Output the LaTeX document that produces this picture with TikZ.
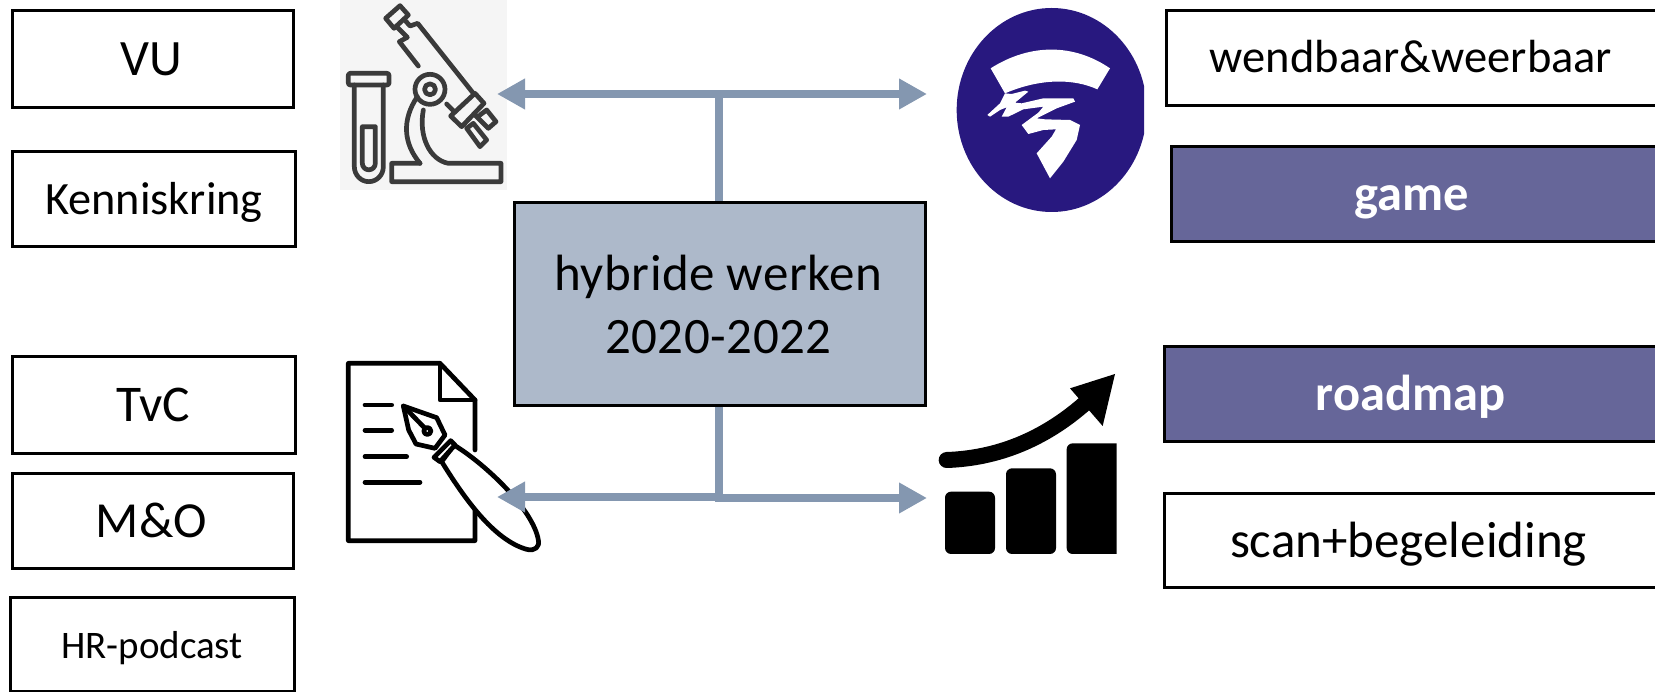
\documentclass[tikz,border=0pt]{standalone}
\usepackage{fontspec}
\setmainfont{Carlito}
\usetikzlibrary{arrows.meta}
\definecolor{linkblue}{HTML}{8497B0}
\definecolor{hubfill}{HTML}{ADB9CA}
\definecolor{purplefill}{HTML}{666699}
\definecolor{logoblue}{HTML}{28187F}
\definecolor{scopegrey}{HTML}{3A3A3A}
\tikzset{
  tagbox/.style={draw=black,line width=3pt,fill=white,inner sep=0pt,text height=33pt,text depth=0pt,font=\fontsize{51}{60}\selectfont},
  accentbox/.style={tagbox,fill=purplefill,text=white,text height=34pt,font=\fontsize{50.5}{60}\selectfont\bfseries},
  hubbox/.style={draw=black,line width=3pt,fill=hubfill,inner sep=0pt,align=center,font=\fontsize{51}{63}\selectfont\addfontfeature{LetterSpace=1}},
  conn/.style={draw=linkblue,line width=8pt},
  connhead/.style={conn,{Triangle[length=28pt,width=29pt]}-},
  scopeline/.style={draw=scopegrey,line width=4.7pt,line join=round,line cap=round},
  penline/.style={draw=black,line width=4.7pt,line join=round,line cap=round},
}
\begin{document}
\begin{tikzpicture}[x=1pt,y=-1pt]
\useasboundingbox (0,0) rectangle (1655,692);
% left boxes
\node[tagbox,minimum width=280.5pt,minimum height=97pt] (vu) at (152.75,59) {\fontsize{51}{60}\selectfont VU\hspace*{3pt}};
\node[tagbox,minimum width=283pt,minimum height=95pt,text height=31pt] (kk) at (154,199.5) {\fontsize{46.3}{56}\selectfont Kenniskring};
\node[tagbox,minimum width=283pt,minimum height=97pt] (tvc) at (154,405) {\fontsize{51.5}{60}\selectfont TvC\hspace*{2pt}};
\node[tagbox,minimum width=281pt,minimum height=95pt] (mo) at (153,521) {\fontsize{50.5}{60}\selectfont M\&O\hspace*{3pt}};
\node[tagbox,minimum width=284pt,minimum height=94pt,text height=28pt] (hr) at (152,644) {\fontsize{39}{48}\selectfont HR-podcast};
% right boxes (run off the page)
\node[tagbox,minimum width=498pt,minimum height=95pt,text height=30pt] (wb) at (1415,58) {\fontsize{46.5}{56}\selectfont wendbaar\&weerbaar\hspace*{8pt}};
\node[accentbox,minimum width=490pt,minimum height=95pt] (game) at (1416,194) {game\hspace*{9pt}};
\node[accentbox,minimum width=498pt,minimum height=95pt] (road) at (1413,394) {roadmap\hspace*{5pt}};
\node[tagbox,minimum width=498pt,minimum height=94pt] (scan) at (1413,540.5) {scan+begeleiding\hspace*{9pt}};

% microscope icon
\fill[color=black!4] (340,0) rectangle (507,190);
\begin{scope}[shift={(320,0)},x=0.33333pt,y=-0.33333pt]
  \draw[scopeline,rounded corners=2pt] (85,220) rectangle (207,255);
  \draw[scopeline] (103,255) -- (103,500) arc[start angle=180,end angle=360,x radius=14.5pt,y radius=15pt] -- (190,255);
  \draw[scopeline] (127,380) -- (127,490) arc[start angle=180,end angle=360,x radius=6.5pt,y radius=6.5pt] -- (166,380) -- cycle;
  \draw[scopeline] (300,490) -- (215,490) -- (215,545) -- (543,545) -- (543,490) -- (385,490)
     .. controls (330,480) and (295,410) .. (310,330);
  \draw[scopeline] (300,490) .. controls (250,430) and (245,360) .. (292,290);
  \draw[scopeline] (330,268) circle[radius=15pt];
  \draw[scopeline] (330,268) circle[radius=5.5pt];
  % body
  \draw[scopeline] (197,55) -- (240,17) -- (265,45) -- (222,85) -- cycle;
  \draw[scopeline] (232,82) -- (262,112) -- (238,125) -- (295,198);
  \draw[scopeline] (256,62) -- (270,78) -- (293,70) -- (460,280);
  \draw[scopeline] (392,348) -- (465,280) -- (492,310) -- (425,380) -- cycle;
  \draw[scopeline] (380,312) -- (400,332);
  \draw[scopeline] (440,385) -- (460,370) -- (500,420) -- (480,440) -- cycle;
  \draw[scopeline] (480,345) -- (500,330) -- (528,365) -- (505,385) -- (465,345);
\end{scope}

% document and pen icon
\begin{scope}[shift={(330,350)},x=0.33333pt,y=-0.33333pt]
  \draw[penline] (435,480) -- (435,572) -- (55,572) -- (55,40) -- (330,40) -- (435,150) -- (435,300);
  \draw[penline] (330,40) -- (330,150) -- (435,150);
  \draw[penline] (105,165) -- (185,165);
  \draw[penline] (105,241) -- (185,241);
  \draw[penline] (105,320) -- (230,320);
  \draw[penline] (105,397) -- (270,397);
  \draw[penline,fill=white] (335,335) .. controls (400,440) and (490,570) .. (590,598)
     .. controls (615,605) and (630,590) .. (625,570)
     .. controls (610,480) and (470,345) .. (372,285) -- cycle;
  \draw[penline,fill=white] (312,322) -- (362,272) -- (375,285) -- (330,335) -- cycle;
  \draw[penline,fill=white] (220,168) -- (320,203) -- (345,255) -- (315,295) -- (258,282) -- (236,240) -- cycle;
  \draw[penline] (220,168) -- (285,235);
  \draw[penline,fill=white] (292,243) circle[radius=3.5pt];
\end{scope}

% logo
\begin{scope}[shift={(940,0)},x=0.33333pt,y=-0.33333pt]
  \clip (0,0) rectangle (612,660);
  \fill[logoblue] (335,330) ellipse[x radius=95pt,y radius=102pt];
  \fill[white] (152,205) .. controls (270,130) and (400,130) .. (510,205) -- (472,268)
     .. controls (400,235) and (300,235) .. (195,280) -- cycle;
  \fill[white] (142,345) -- (180,310) -- (195,280) -- (215,282) -- (255,272) -- (265,275) -- (225,308) -- (245,310)
     -- (310,295) -- (400,295) -- (405,305) -- (350,325) -- (290,355) -- (315,358) -- (390,360)
     -- (420,375) -- (410,420) -- (370,485) -- (330,535) -- (290,460) -- (335,410) -- (348,388)
     -- (310,390) -- (265,402) -- (245,375) -- (295,338) -- (310,320) -- (250,328) -- (205,350)
     -- (185,350) -- (200,322) -- (180,330) -- (150,350) -- cycle;
\end{scope}

% chart
\begin{scope}[shift={(920,360)},x=0.33333pt,y=-0.33333pt]
  \clip (0,0) rectangle (590,640);
  \fill[black,rounded corners=6pt] (75,395) rectangle (225,582);
  \fill[black,rounded corners=6pt] (258,325) rectangle (408,582);
  \fill[black,rounded corners=6pt] (440,250) rectangle (640,582);
  \draw[black,line width=16pt,line cap=round] (80,300) .. controls (230,295) and (370,240) .. (495,130);
  \fill[black] (450,85) -- (585,42) -- (548,198) -- cycle;
\end{scope}

% hub and connectors
\node[hubbox,minimum width=411pt,minimum height=203pt] (hub) at (720,304) {hybride werken\hspace*{3pt}\\2020-2022\hspace*{3pt}};
\coordinate (topl) at (497,94);
\coordinate (topr) at (927,94);
\coordinate (topj) at (719,94);
\coordinate (botl) at (497,497);
\coordinate (botr) at (927,498);
\coordinate (botj) at (719,497);
\draw[conn,{Triangle[length=28pt,width=29pt]}-{Triangle[length=28pt,width=29pt]}] (topl) -- (topr);
\draw[conn] (topj |- hub.north) -- (topj);
\draw[conn] (botj |- hub.south) -- (719,502);
\draw[connhead] (botl) -- (723,497);
\draw[connhead] (botr) -- (715,498);
\end{tikzpicture}
\end{document}
